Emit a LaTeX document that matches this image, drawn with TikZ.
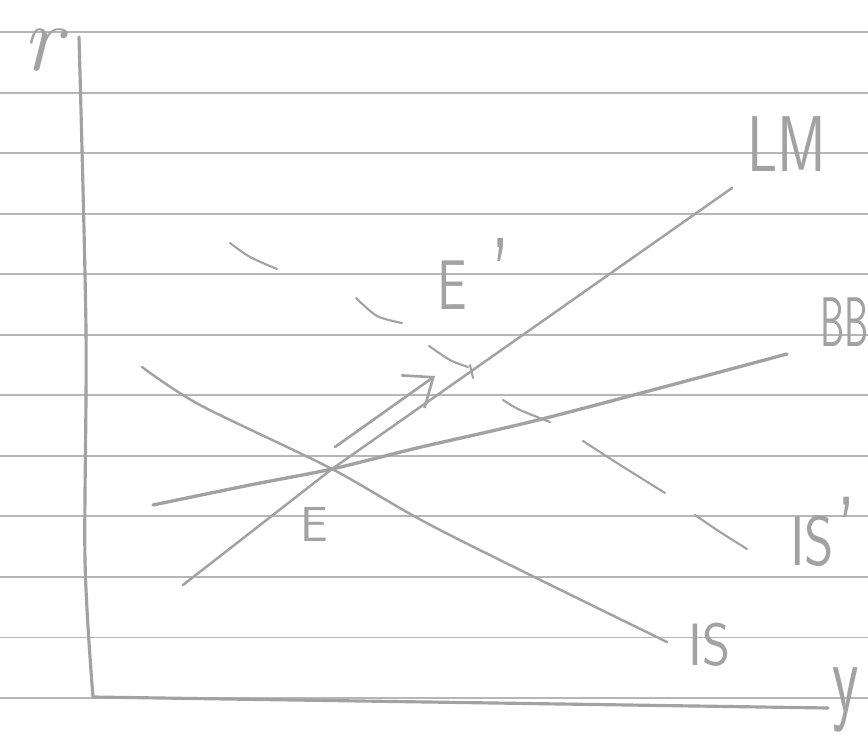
\documentclass[tikz,border=0pt]{standalone}
\usepackage{graphicx}
\usepackage{tikz}
\usetikzlibrary{arrows.meta}

\definecolor{ink}{RGB}{162,162,162}
\definecolor{ruleline}{RGB}{182,182,182}

\tikzset{
  curve/.style={draw=ink, line width=1.4pt, line cap=round, line join=round},
  handtext/.style={text=ink, inner sep=0pt, font=\sffamily}
}

\begin{document}
\begin{tikzpicture}[x=0.02cm, y=-0.02cm]

\useasboundingbox (0,0) rectangle (868,742);

% ruled paper
\foreach \k in {0,...,11}
  \draw[ruleline, line width=1.1pt] (0,{32+60.55*\k}) -- (868,{32+60.55*\k});

% axes
\coordinate (top) at (79,37);
\coordinate (origin) at (93,697);
\coordinate (right) at (828,708);
\draw[curve, line width=1.8pt] plot[smooth] coordinates {(top) (86,330) (85,560) (origin)} -- (right);

% equilibrium point
\coordinate (E) at (332,469);

% LM
\coordinate (lm0) at (183,585);
\coordinate (lm1) at (732,188);
\draw[curve] (lm0) -- (E) -- (lm1);

% BB
\coordinate (bb0) at (153,505);
\coordinate (bb1) at (787,354);
\draw[curve, line width=1.9pt] plot[smooth] coordinates {(bb0) (250,485) (E) (417,448) (550,417) (bb1)};

% IS
\coordinate (is0) at (142,367);
\coordinate (is1) at (667,642);
\draw[curve] plot[smooth, tension=0.5] coordinates {(is0) (200,405) (E) (440,530) (is1)};

% IS' (broken strokes)
\draw[curve, line width=1.2pt] plot[smooth] coordinates {(230,243) (250,257) (277,269)};
\draw[curve, line width=1.2pt] plot[smooth] coordinates {(356,298) (377,316) (402,323)};
\draw[curve, line width=1.2pt] plot[smooth] coordinates {(429,346) (450,360) (468,367)};
\draw[curve, line width=1.2pt] (470,365) -- (473,378);
\draw[curve, line width=1.2pt] plot[smooth] coordinates {(503,400) (520,410) (550,422)};
\draw[curve, line width=1.2pt] plot[smooth] coordinates {(583,441) (617,463) (665,493)};
\draw[curve, line width=1.2pt] plot[smooth] coordinates {(695,515) (720,532) (747,549)};

% shift arrow E -> E'
\coordinate (arr0) at (335,447);
\coordinate (arr1) at (435,376);
\draw[curve, line width=1.5pt, -{Straight Barb[length=5mm, width=8mm]}] (arr0) -- (arr1);

% Labels
\node[text=ink, inner sep=0pt] (rlab) at (42,50) {\fontsize{54}{54}\selectfont\itshape r};
\node[handtext] (ylab) at (846,700) {\fontsize{58}{58}\selectfont\scalebox{0.6}[1]{y}};
\node[handtext, anchor=south west] (lmlab) at (747,172) {\fontsize{45}{45}\selectfont\scalebox{0.75}[1]{LM}};
\node[handtext, anchor=south west] (bblab) at (820,347) {\fontsize{40}{40}\selectfont\scalebox{0.55}[1]{BB}};
\node[handtext, anchor=south west] (islab) at (688,667) {\fontsize{34}{34}\selectfont\scalebox{0.9}[1]{IS}};
\node[handtext, anchor=south west] (isplab) at (790,567) {\fontsize{40}{40}\selectfont\scalebox{0.8}[1]{IS}\kern2pt\scalebox{1}[1.4]{'}};
\node[handtext, anchor=south west] (Eplab) at (437,317) {\fontsize{40}{40}\selectfont\scalebox{0.75}[1]{E}\kern14pt\raisebox{-4pt}{\scalebox{1}[1.6]{'}}};
\node[handtext, anchor=south west] (Elab) at (300,542) {\fontsize{28}{28}\selectfont E};

\end{tikzpicture}
\end{document}
